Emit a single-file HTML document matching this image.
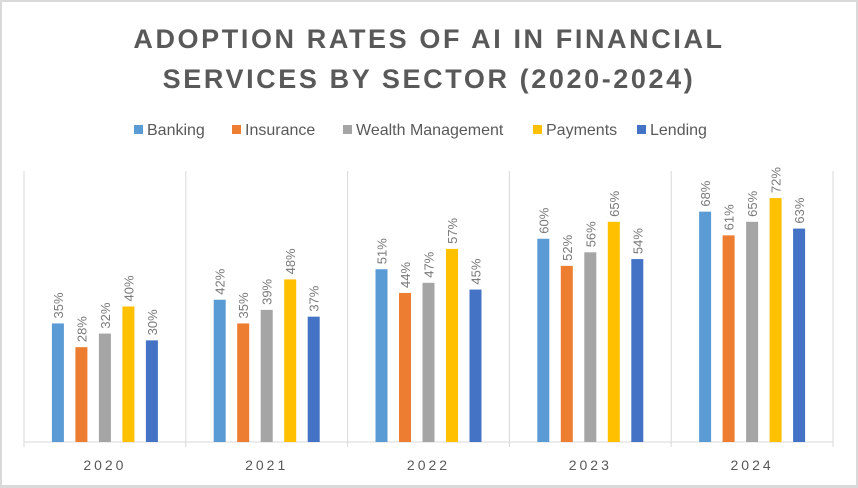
<!DOCTYPE html>
<html><head><meta charset="utf-8"><style>
html,body{margin:0;padding:0;background:#fff;}
body{width:858px;height:488px;overflow:hidden;font-family:"Liberation Sans",sans-serif;}
#frame{position:absolute;left:0;top:0;width:854px;height:483px;border:2px solid #d9d9d9;border-bottom-width:3px;box-sizing:content-box;}
</style></head><body>
<div id="frame"></div>
<svg id="chart" width="858" height="488" style="position:absolute;left:0;top:0">
<text x="429" y="48" text-anchor="middle" font-size="27" font-weight="bold" fill="#595959" letter-spacing="2.6">ADOPTION RATES OF AI IN FINANCIAL</text>
<text x="429" y="88" text-anchor="middle" font-size="27" font-weight="bold" fill="#595959" letter-spacing="2.6">SERVICES BY SECTOR (2020-2024)</text>
<g id="legend"></g>
<g id="grid"></g>
<g id="bars"></g>
</svg>
<script>
const categories = ["2020","2021","2022","2023","2024"];
const seriesNames = ["Banking","Insurance","Wealth Management","Payments","Lending"];
const banking = [35,42,51,60,68];
const insurance = [28,35,44,52,61];
const wealth = [32,39,47,56,65];
const payments = [40,48,57,65,72];
const lending = [30,37,45,54,63];
const series = [banking, insurance, wealth, payments, lending];
const colors = ["#5b9bd5","#ed7d31","#a5a5a5","#ffc000","#4472c4"];
const NS="http://www.w3.org/2000/svg";
const plotLeft=24,plotRight=833,plotTop=171,plotBase=442,maxV=80;
const cw=(plotRight-plotLeft)/categories.length;
const yScale=v=>plotBase-(v/maxV)*(plotBase-plotTop);
const xc=i=>plotLeft+cw*(i+0.5);
function mk(tag,attrs,parent){const e=document.createElementNS(NS,tag);for(const k in attrs)e.setAttribute(k,attrs[k]);parent.appendChild(e);return e;}
const gridG=document.getElementById('grid'),barsG=document.getElementById('bars'),legendG=document.getElementById('legend');
for(let i=0;i<=categories.length;i++){
  const l=mk('line',{x1:plotLeft+cw*i,x2:plotLeft+cw*i,y1:plotTop,y2:plotBase+5,stroke:'#d9d9d9','stroke-width':1},gridG);
  
  
}
const ax=mk('line',{x1:plotLeft,x2:plotRight,y1:plotBase,y2:plotBase,stroke:'#d9d9d9','stroke-width':1},gridG);


const bw=12,step=23.5;
categories.forEach((c,i)=>{
  const t=mk('text',{x:xc(i),y:470,'text-anchor':'middle','font-size':14,fill:'#595959','letter-spacing':3},gridG);
  t.textContent=c;
  
  
  series.forEach((s,j)=>{
    const cx=xc(i)+(j-2)*step;
    const r=mk('rect',{x:cx-bw/2,y:yScale(s[i]),width:bw,height:plotBase-yScale(s[i]),fill:colors[j]},barsG);
    
    
    const lx=cx+5,ly=yScale(s[i])-5;
    const lb=mk('text',{x:lx,y:ly,'font-size':13,fill:'#7a7a7a',transform:`rotate(-90 ${lx} ${ly})`},barsG);
    lb.textContent=s[i]+'%';
    
    
  });
});
const lxs=[134,232,343,533,637];
seriesNames.forEach((n,j)=>{
  const g=mk('g',{},legendG);
  
  
  mk('rect',{x:lxs[j],y:125,width:9,height:9,fill:colors[j]},g);
  const t=mk('text',{x:lxs[j]+13,y:135,'font-size':16,fill:'#595959'},g);
  t.textContent=n;
});
</script>
</body></html>
